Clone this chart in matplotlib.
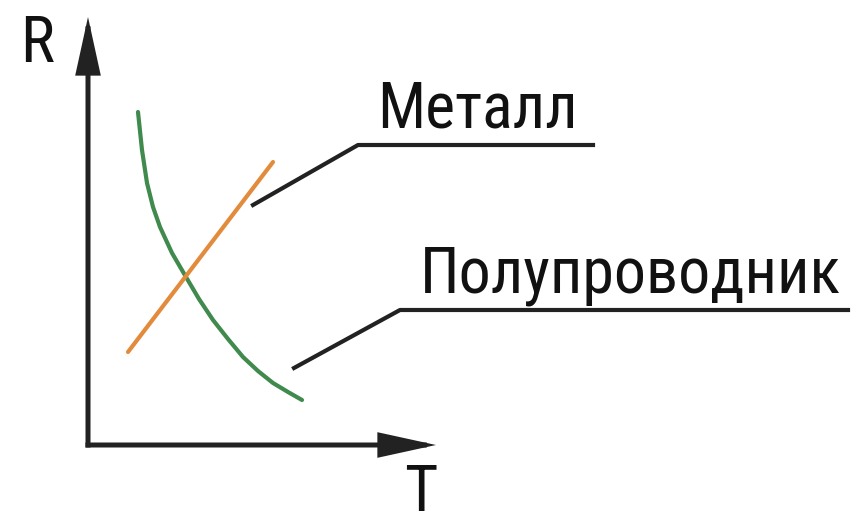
import matplotlib.pyplot as plt
from matplotlib.patches import FancyArrowPatch

plt.rcParams['font.family'] = ['Roboto Condensed', 'Liberation Sans', 'DejaVu Sans']

# values (origin = corner of the axes, units ~ pixels)
metal_T = [40, 185]
metal_R = [93, 283]

semi_T = [50, 54, 59, 65, 72, 84, 98, 111, 125, 140, 155, 170, 185, 200, 214]
semi_R = [333, 295, 262, 238, 218, 192, 168, 146, 125, 106, 88, 74, 62, 53, 45]

metal_label = 'Металл'
semi_label = 'Полупроводник'

axis_col = '#222222'
green = '#3f8a4c'
orange = '#e38b3c'

fig = plt.figure(figsize=(8.61, 5.28), dpi=100)
ax = fig.add_axes([0, 0, 1, 1])
ax.set_xlim(-88, 773)
ax.set_ylim(-83, 445)
ax.axis('off')

# axes with arrows
for end in [(0, 428), (348, 0)]:
    ax.add_patch(FancyArrowPatch((0, 0), end, arrowstyle='-|>,head_length=32,head_width=7',
                                 mutation_scale=1, color=axis_col, lw=3.6,
                                 shrinkA=0, shrinkB=0, joinstyle='miter', capstyle='projecting'))
ax.text(-51, 383, 'R', fontsize=46, ha='center', va='baseline', color='#111111')
ax.text(333, -66, 'T', fontsize=46, ha='center', va='baseline', color='#111111')

ax.plot(semi_T, semi_R, color=green, lw=3.0, solid_capstyle='round')
ax.plot(metal_T, metal_R, color=orange, lw=3.0, solid_capstyle='round')

# leader lines and labels
ax.plot([165, 270, 505], [240, 300, 300], color=axis_col, lw=3.0)
ax.text(289, 317, metal_label, fontsize=46, ha='left', va='baseline', color='#111111')
ax.plot([206, 312, 760], [77, 135, 135], color=axis_col, lw=3.0)
ax.text(332, 152, semi_label, fontsize=46, ha='left', va='baseline', color='#111111')

fig.savefig('out.png', dpi=100)
